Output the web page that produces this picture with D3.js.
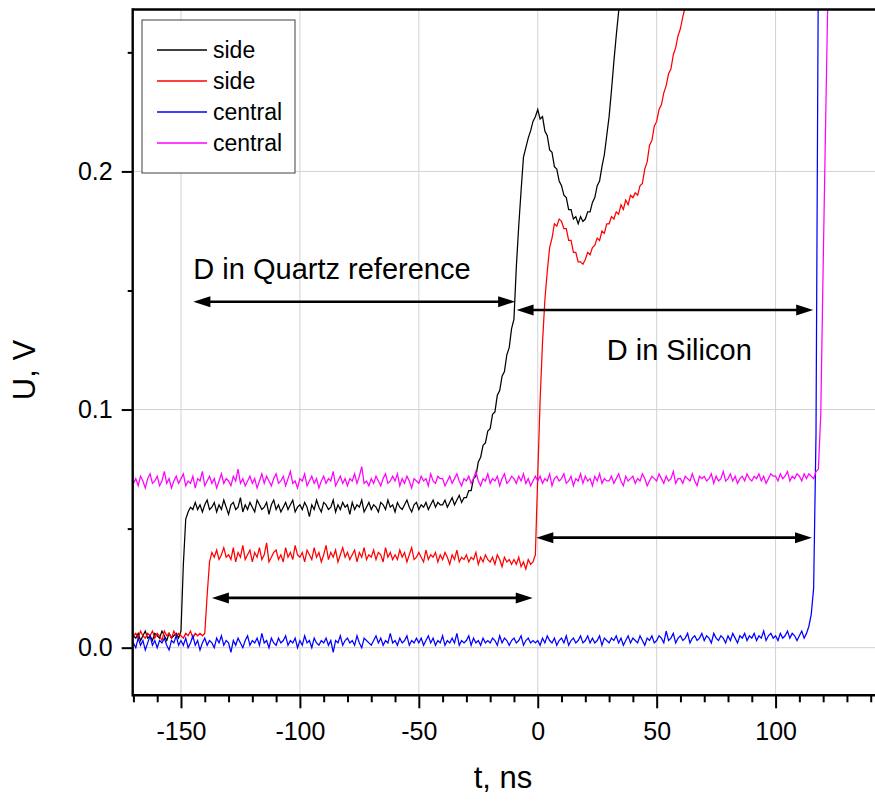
<!DOCTYPE html>
<html>
<head>
<meta charset="utf-8">
<script src="https://cdn.jsdelivr.net/npm/d3@7"></script>
<style>
  html, body { margin: 0; padding: 0; background: #fff; }
  svg { display: block; font-family: "Liberation Sans", Arial, Helvetica, sans-serif; }
</style>
</head>
<body>
<svg id="chart" width="875" height="801"></svg>
<script>
// Oscilloscope traces: one sample per ns starting at t = -170 ns, values in mV.
const sampleStart = -170;
const sampleStep = 1;

const sideBlack = [
  5,4,6,3,5,7,4,5,3,6,
  5,4,7,5,3,6,4,5,6,4,
  7,35,54,57,59,58,61,58,60,57,
  60,62,58,59,61,57,60,58,62,59,
  56,60,61,58,59,63,57,60,58,61,
  59,57,62,60,58,59,61,56,60,62,
  58,60,57,59,61,58,60,62,57,59,
  60,58,61,59,55,60,58,62,59,57,
  61,60,58,59,62,57,60,58,61,59,
  60,56,61,58,60,59,62,57,59,61,
  58,60,59,57,61,60,58,62,59,60,
  57,61,59,58,60,62,59,57,60,61,
  58,60,59,61,58,60,62,59,61,60,
  60,62,59,61,63,60,62,64,61,63,
  63,66,66,71,72,78,80,85,86,91,
  92,98,99,106,108,114,116,123,126,134,
  138,160,177,192,206,210,214,217,221,223,
  226,222,223,217,215,209,208,202,201,196,
  194,190,189,184,184,180,181,178,181,179,
  180,183,183,187,189,194,196,202,207,215,
  223,234,246,257,267,279
];

const sideRed = [
  5,6,4,7,5,4,6,5,7,4,
  6,5,3,7,5,6,4,7,5,6,
  5,4,6,5,7,4,6,5,6,5,
  6,22,36,40,38,41,37,39,42,38,
  39,37,42,36,40,38,43,37,39,41,
  36,40,38,42,37,39,44,36,38,40,
  41,37,39,36,42,38,40,37,43,39,
  38,40,36,41,39,37,42,38,40,36,
  39,43,37,40,38,41,36,39,42,38,
  40,37,39,41,36,40,38,42,37,39,
  38,41,37,40,39,36,42,38,40,37,
  39,37,41,38,40,36,39,42,37,38,
  40,38,36,41,37,39,38,40,36,39,
  37,40,38,35,39,37,41,36,38,37,
  39,36,38,37,40,35,38,36,39,37,
  36,38,35,39,37,34,38,36,37,35,
  37,35,38,34,36,33,37,35,36,39,
  72,104,128,146,158,168,172,178,177,180,
  179,176,176,171,171,166,166,162,162,161,
  163,166,165,168,169,172,171,175,174,178,
  178,181,180,183,182,186,184,188,186,190,
  189,191,190,194,195,201,204,211,213,219,
  221,226,228,233,236,241,243,249,252,257,
  260,265,269,274
];

const centralBlue = [
  2,0,4,1,3,-1,2,5,1,3,
  0,3,2,4,1,-1,3,2,5,1,
  3,1,4,0,2,5,1,3,-1,2,
  4,1,3,2,0,4,2,5,1,3,
  2,-2,3,1,4,2,0,3,5,1,
  3,2,4,1,6,2,3,0,4,2,
  1,4,2,3,5,1,3,2,4,0,
  3,1,5,2,3,0,4,2,1,3,
  2,4,1,3,-2,3,2,5,1,3,
  4,2,3,1,5,2,0,4,3,2,
  1,3,5,2,4,1,3,2,6,2,
  3,1,4,2,3,5,1,3,2,4,
  2,4,1,3,5,2,4,1,3,2,
  5,1,3,2,4,2,6,1,3,2,
  3,5,1,4,2,3,1,4,2,3,
  2,4,3,1,5,2,4,3,1,3,
  4,2,3,5,1,3,4,2,3,2,
  3,1,4,2,5,3,2,4,1,3,
  4,2,5,1,3,4,2,3,5,2,
  3,5,2,4,2,3,5,1,4,3,
  2,4,3,5,2,4,1,3,5,2,
  4,3,2,5,3,1,4,3,5,2,
  3,5,4,2,7,3,4,6,2,4,
  5,3,4,6,2,4,5,3,4,6,
  3,5,4,2,6,4,3,5,4,2,
  5,3,6,4,2,5,4,6,3,5,
  4,6,3,5,4,7,3,5,6,4,
  5,3,6,4,5,7,4,6,5,3,
  5,7,4,6,9,14,25,90,290,420
];

const centralMagenta = [
  69,71,68,72,70,67,71,73,69,70,
  72,68,70,74,69,71,67,70,72,69,
  71,73,68,70,69,72,67,71,70,74,
  68,70,72,69,71,67,70,73,69,71,
  70,68,72,70,75,69,71,68,70,72,
  69,71,67,70,73,69,72,70,68,71,
  73,69,70,72,68,71,74,69,70,67,
  71,70,73,68,70,72,69,71,67,70,
  72,69,71,70,74,68,70,72,69,71,
  68,71,70,73,69,72,76,69,70,68,
  71,69,72,70,68,71,73,69,70,72,
  70,73,68,71,69,72,70,67,71,70,
  69,72,70,71,68,73,70,69,72,71,
  71,68,70,72,69,71,73,70,68,71,
  70,72,69,71,74,70,68,71,70,73,
  69,71,70,72,68,71,73,69,70,72,
  71,69,72,70,73,69,71,68,70,72,
  70,72,69,71,70,73,68,71,72,70,
  71,73,69,70,72,68,71,70,73,69,
  72,70,71,68,72,70,73,69,71,70,
  70,72,69,71,73,70,68,72,70,71,
  72,69,71,70,73,71,68,70,72,71,
  70,73,71,69,72,70,71,74,69,71,
  71,69,72,71,70,73,70,68,72,71,
  72,70,71,73,69,72,70,71,74,70,
  71,73,70,72,69,71,72,70,73,71,
  70,72,71,73,70,72,69,71,73,72,
  72,70,73,71,72,74,70,72,71,73,
  72,70,73,71,73,72,71,74,75,98,
  160,218,275,332
];

const seriesNames = ["side", "side", "central", "central"];
const seriesColors = ["#000000", "#ff0000", "#0000ff", "#ff00ff"];
const seriesValues = [sideBlack, sideRed, centralBlue, centralMagenta];

// Axes
const xDomain = [-170.3, 141.8];
const yDomain = [-0.02, 0.268];
const xMajorTicks = [-150, -100, -50, 0, 50, 100];
const xTickLabels = ["-150", "-100", "-50", "0", "50", "100"];
const xMinorTicks = [-170, -160, -140, -130, -120, -110, -90, -80, -70, -60, -40, -30, -20, -10,
                     10, 20, 30, 40, 60, 70, 80, 90, 110, 120, 130, 140];
const yMajorTicks = [0, 0.1, 0.2];
const yTickLabels = ["0.0", "0.1", "0.2"];
const yMinorTicks = [0.05, 0.15, 0.25];
const xTitle = "t, ns";
const yTitle = "U, V";

// Double-headed arrows marking the delays (t in ns, U in V)
const arrowStart = [-144.8, -8.9, -137.0, -0.6];
const arrowEnd   = [-9.5, 115.8, -2.1, 115.3];
const arrowLevel = [0.1453, 0.1418, 0.0209, 0.0462];
const noteTexts = ["D in Quartz reference", "D in Silicon"];
const noteT = [-144.8, 29.0];
const noteU = [0.1547, 0.1210];

const svg = d3.select("#chart");
const W = 875, H = 801;
const plot = { left: 132.7, right: 875, top: 9.5, bottom: 695.3 };

const x = d3.scaleLinear().domain(xDomain).range([plot.left, plot.right]);
const y = d3.scaleLinear().domain(yDomain).range([plot.bottom, plot.top]);

svg.append("rect").attr("width", W).attr("height", H).attr("fill", "#fff");

// Grid
const grid = svg.append("g").attr("stroke", "#d2d2d2").attr("stroke-width", 1);
grid.selectAll("line.gx").data(xMajorTicks).join("line")
  .attr("x1", d => x(d)).attr("x2", d => x(d))
  .attr("y1", plot.top).attr("y2", plot.bottom);
grid.selectAll("line.gy").data(yMajorTicks).join("line")
  .attr("x1", plot.left).attr("x2", plot.right)
  .attr("y1", d => y(d)).attr("y2", d => y(d));

// Traces
svg.append("clipPath").attr("id", "plotClip").append("rect")
  .attr("x", plot.left).attr("y", plot.top)
  .attr("width", plot.right - plot.left).attr("height", plot.bottom - plot.top);

const line = d3.line()
  .x((d, i) => x(sampleStart + i * sampleStep))
  .y(d => y(d / 1000));

const traces = svg.append("g").attr("clip-path", "url(#plotClip)");
seriesValues.forEach((vals, k) => {
  traces.append("path")
    .datum(vals)
    .attr("d", line)
    .attr("fill", "none")
    .attr("stroke", seriesColors[k])
    .attr("stroke-width", 1.25)
    .attr("stroke-linejoin", "miter");
});

// Axes
const fontTick = 25;
const xAxisMajor = d3.axisBottom(x).tickValues(xMajorTicks)
  .tickFormat((d, i) => xTickLabels[i]).tickSize(13).tickSizeOuter(0).tickPadding(14);
const xAxisMinor = d3.axisBottom(x).tickValues(xMinorTicks)
  .tickFormat("").tickSize(7).tickSizeOuter(0);
const yAxisMajor = d3.axisLeft(y).tickValues(yMajorTicks)
  .tickFormat((d, i) => yTickLabels[i]).tickSize(11).tickSizeOuter(0).tickPadding(9);
const yAxisMinor = d3.axisLeft(y).tickValues(yMinorTicks)
  .tickFormat("").tickSize(5).tickSizeOuter(0);

function styleAxis(g) {
  g.select(".domain").remove();
  g.selectAll(".tick line").attr("stroke", "#000").attr("stroke-width", 2);
  g.selectAll(".tick text").attr("fill", "#000")
    .style("font-size", fontTick + "px")
    .style("font-family", "'Liberation Sans', Arial, sans-serif");
}

svg.append("g").attr("transform", `translate(0,${plot.bottom})`).call(xAxisMinor).call(styleAxis);
svg.append("g").attr("transform", `translate(0,${plot.bottom})`).call(xAxisMajor).call(styleAxis);
svg.append("g").attr("transform", `translate(${plot.left},0)`).call(yAxisMinor).call(styleAxis);
svg.append("g").attr("transform", `translate(${plot.left},0)`).call(yAxisMajor).call(styleAxis);

// Frame lines: left, bottom, top
const frame = svg.append("g").attr("stroke", "#000").attr("stroke-width", 2.4).attr("fill", "none");
frame.append("line").attr("x1", plot.left).attr("x2", plot.left).attr("y1", plot.top - 1.2).attr("y2", plot.bottom + 1.2);
frame.append("line").attr("x1", plot.left).attr("x2", plot.right).attr("y1", plot.bottom).attr("y2", plot.bottom);
frame.append("line").attr("x1", plot.left).attr("x2", plot.right).attr("y1", plot.top).attr("y2", plot.top);

// Axis titles
svg.append("text").text(xTitle)
  .attr("x", 503).attr("y", 788)
  .attr("text-anchor", "middle").style("font-size", "31px").attr("fill", "#000");
svg.append("text").text(yTitle)
  .attr("transform", "translate(35,370) rotate(-90)")
  .attr("text-anchor", "middle").style("font-size", "31px").attr("fill", "#000");

// Arrows
const headLen = 17, headHalf = 5.5;
const arrows = svg.append("g");
arrowStart.forEach((t0, i) => {
  const xa = x(t0), xb = x(arrowEnd[i]), yy = y(arrowLevel[i]);
  arrows.append("line")
    .attr("x1", xa + headLen - 2).attr("x2", xb - headLen + 2)
    .attr("y1", yy).attr("y2", yy)
    .attr("stroke", "#000").attr("stroke-width", 2.6);
  arrows.append("path")
    .attr("d", `M${xa},${yy} L${xa + headLen},${yy - headHalf} L${xa + headLen},${yy + headHalf} Z`)
    .attr("fill", "#000");
  arrows.append("path")
    .attr("d", `M${xb},${yy} L${xb - headLen},${yy - headHalf} L${xb - headLen},${yy + headHalf} Z`)
    .attr("fill", "#000");
});

// Notes
noteTexts.forEach((s, i) => {
  svg.append("text").text(s)
    .attr("x", x(noteT[i])).attr("y", y(noteU[i]))
    .style("font-size", "29px").attr("fill", "#000");
});

// Legend
const legend = svg.append("g").attr("transform", "translate(142,20)");
legend.append("rect").attr("width", 153).attr("height", 153)
  .attr("fill", "#fff").attr("stroke", "#404040").attr("stroke-width", 1);
seriesNames.forEach((name, i) => {
  const cy = 30 + i * 31;
  legend.append("line").attr("x1", 15).attr("x2", 65).attr("y1", cy).attr("y2", cy)
    .attr("stroke", seriesColors[i]).attr("stroke-width", 1.5);
  legend.append("text").text(name).attr("x", 71).attr("y", cy).attr("dy", "0.35em")
    .style("font-size", "23px").attr("fill", "#000");
});
</script>
</body>
</html>
